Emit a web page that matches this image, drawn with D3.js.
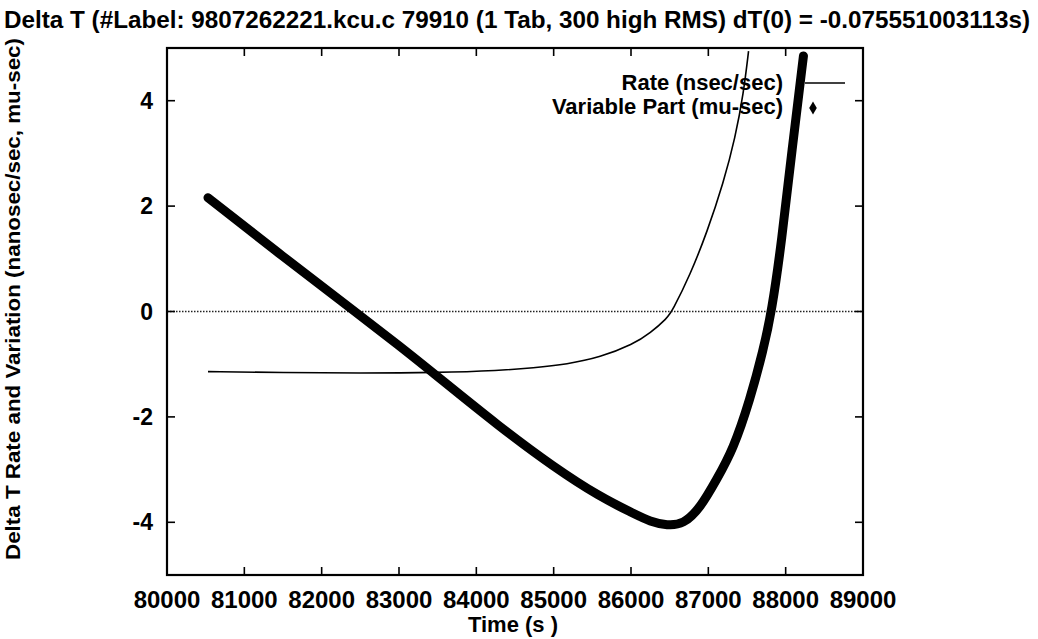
<!DOCTYPE html>
<html>
<head>
<meta charset="utf-8">
<script src="https://cdn.jsdelivr.net/npm/d3@7"></script>
<style>
  body { margin: 0; background: #fff; }
  svg { display: block; font-family: "Liberation Sans", Arial, Helvetica, sans-serif; font-weight: bold; }
</style>
</head>
<body>
<svg id="chart" width="1038" height="639"></svg>
<script>
// values
var xTicks = [80000, 81000, 82000, 83000, 84000, 85000, 86000, 87000, 88000, 89000];
var yTicks = [-4, -2, 0, 2, 4];

// Rate (nsec/sec)
var rateT = [80530, 81500, 82500, 83500, 84300, 84735, 85175, 85600, 86030, 86250, 86470, 86530, 86766, 86982, 87197, 87348, 87456, 87520];
var rateV = [-1.14, -1.16, -1.17, -1.16, -1.12, -1.07, -1.00, -0.87, -0.62, -0.41, -0.12, 0.0, 0.70, 1.50, 2.45, 3.30, 4.15, 4.94];

// Variable Part (mu-sec)
var varT = [80530, 81500, 82430, 83020, 83420, 84310, 85000, 85600, 86030, 86250, 86470, 86675, 86895, 87110, 87320, 87540, 87710, 87820, 87950, 88080, 88230];
var varV = [2.16, 1.04, 0.0, -0.67, -1.14, -2.2, -2.95, -3.52, -3.83, -3.99, -4.06, -4.04, -3.73, -3.18, -2.62, -1.67, -0.73, 0.0, 1.35, 3.05, 4.85];

var svg = d3.select('#chart');
var x = d3.scaleLinear().domain([80000, 89000]).range([167, 863]);
var y = d3.scaleLinear().domain([-5, 5]).range([575, 48]);

// title
svg.append('text')
  .attr('x', 4).attr('y', 28)
  .attr('textLength', 1026).attr('lengthAdjust', 'spacingAndGlyphs')
  .style('font-size', '24px')
  .text('Delta T (#Label: 9807262221.kcu.c 79910 (1 Tab, 300 high RMS) dT(0) = -0.075551003113s)');

// zero line
svg.append('line')
  .attr('x1', x(80000)).attr('x2', x(89000))
  .attr('y1', y(0)).attr('y2', y(0))
  .attr('stroke', '#222').attr('stroke-width', 1.4)
  .attr('stroke-dasharray', '1.5,1.5');

// ticks (inward, all four sides)
var tk = svg.append('g').attr('stroke', '#000').attr('stroke-width', 1.6);
xTicks.forEach(function(t) {
  tk.append('line').attr('x1', x(t)).attr('x2', x(t)).attr('y1', y(-5)).attr('y2', y(-5) - 8);
  tk.append('line').attr('x1', x(t)).attr('x2', x(t)).attr('y1', y(5)).attr('y2', y(5) + 8);
});
yTicks.forEach(function(t) {
  tk.append('line').attr('x1', x(80000)).attr('x2', x(80000) + 8).attr('y1', y(t)).attr('y2', y(t));
  tk.append('line').attr('x1', x(89000)).attr('x2', x(89000) - 8).attr('y1', y(t)).attr('y2', y(t));
});

// frame
svg.append('rect')
  .attr('x', x(80000)).attr('y', y(5))
  .attr('width', x(89000) - x(80000)).attr('height', y(-5) - y(5))
  .attr('fill', 'none').attr('stroke', '#000').attr('stroke-width', 2.2);

// tick labels
svg.append('g').selectAll('text').data(xTicks).join('text')
  .attr('x', function(d) { return x(d); }).attr('y', 608)
  .attr('text-anchor', 'middle').style('font-size', '24px')
  .text(function(d) { return d; });
svg.append('g').selectAll('text').data(yTicks).join('text')
  .attr('x', 153).attr('y', function(d) { return y(d) + 8; })
  .attr('text-anchor', 'end').style('font-size', '23px')
  .text(function(d) { return d; });

// axis titles
svg.append('text')
  .attr('x', 513).attr('y', 632).attr('text-anchor', 'middle')
  .style('font-size', '22px').text('Time (s )');
svg.append('text')
  .attr('transform', 'translate(20,299) rotate(-90)')
  .attr('text-anchor', 'middle')
  .attr('textLength', 522).attr('lengthAdjust', 'spacingAndGlyphs')
  .style('font-size', '21px')
  .text('Delta T Rate and Variation (nanosec/sec, mu-sec)');

// series
var rate = rateT.map(function(t, i) { return [t, rateV[i]]; });
var vpart = varT.map(function(t, i) { return [t, varV[i]]; });
var px = function(d) { return x(d[0]); };
var py = function(d) { return y(d[1]); };
var smooth = d3.line().x(px).y(py).curve(d3.curveBasis);

svg.append('path').datum(vpart)
  .attr('d', smooth)
  .attr('fill', 'none')
  .attr('stroke', '#000').attr('stroke-width', 9)
  .attr('stroke-linecap', 'round');

svg.append('path').datum(rate)
  .attr('d', smooth)
  .attr('fill', 'none')
  .attr('stroke', '#000').attr('stroke-width', 1.6);

// legend
var lg = svg.append('g').style('font-size', '22px').attr('text-anchor', 'end');
lg.append('text').attr('x', 783).attr('y', 90).text('Rate (nsec/sec)');
lg.append('text').attr('x', 783).attr('y', 114).text('Variable Part (mu-sec)');
lg.append('line').attr('x1', 805).attr('x2', 845).attr('y1', 83).attr('y2', 83)
  .attr('stroke', '#000').attr('stroke-width', 1.6);
lg.append('path')
  .attr('transform', 'translate(813,108)')
  .attr('d', d3.symbol().type(d3.symbolDiamond).size(50));
</script>
</body>
</html>
